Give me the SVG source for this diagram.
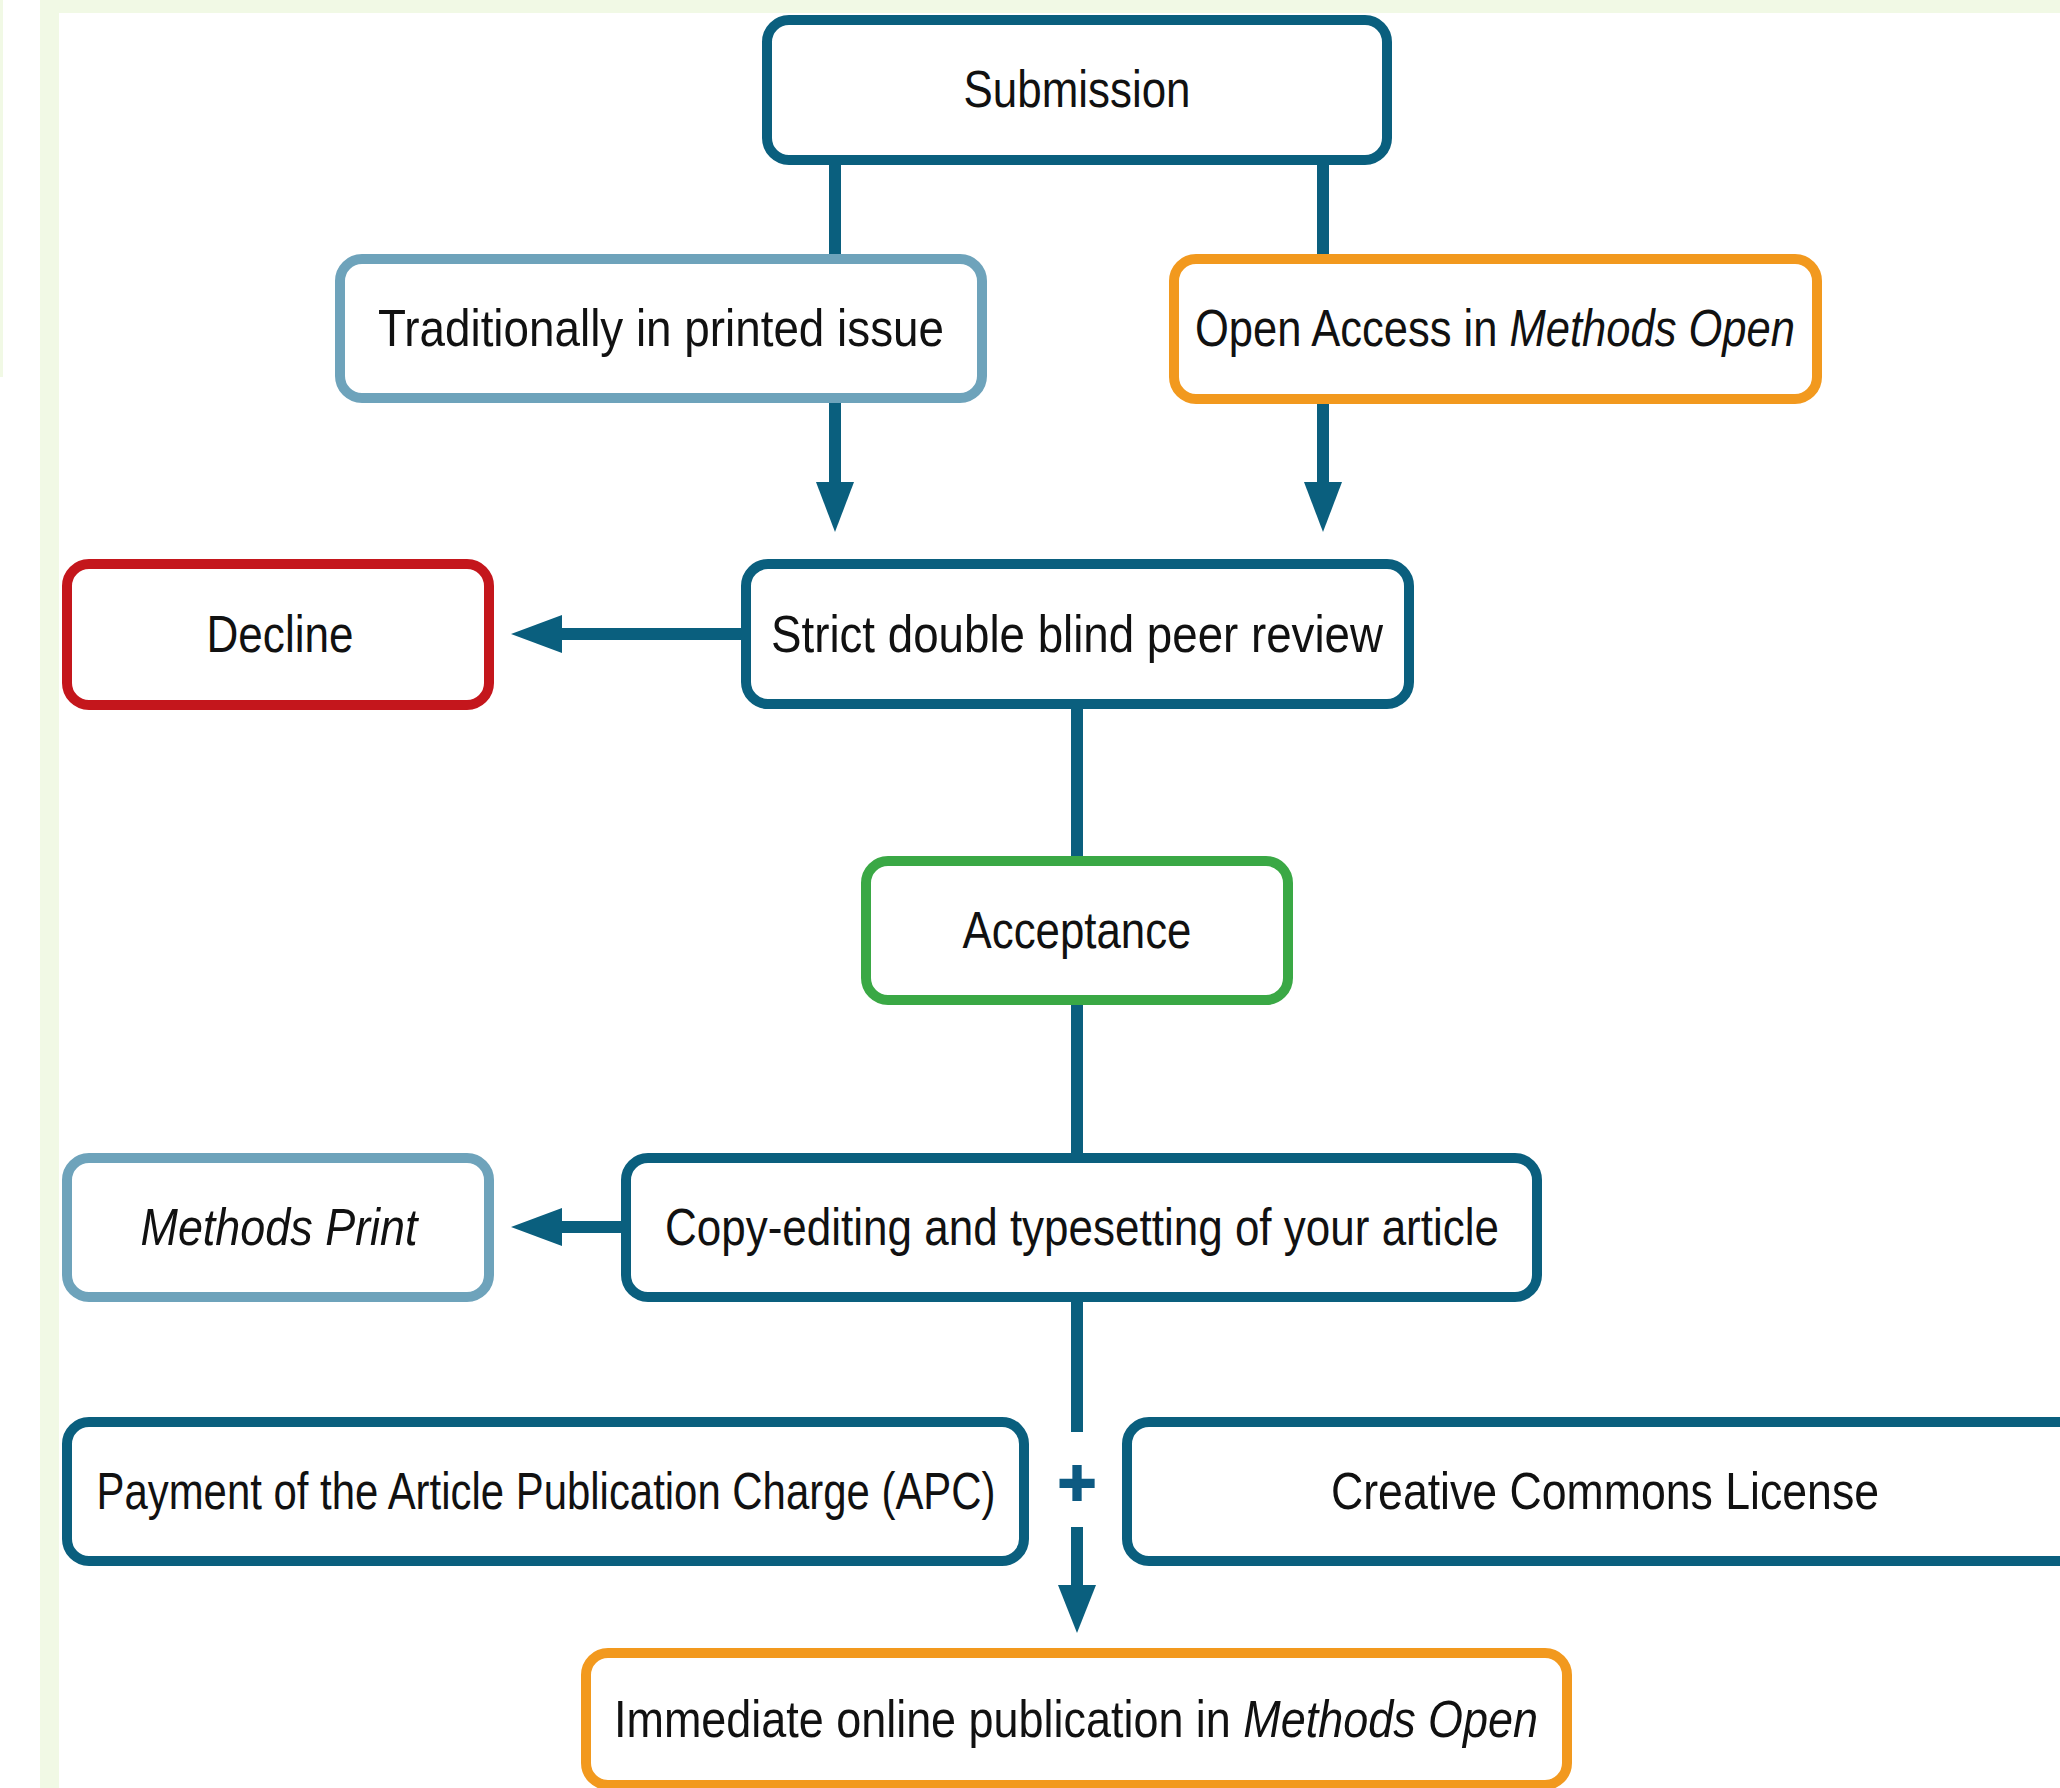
<svg xmlns="http://www.w3.org/2000/svg" width="2060" height="1788" viewBox="0 0 2060 1788">
<defs>
<style>
.box{fill:#ffffff;stroke-width:10}
.teal{stroke:#0a5f7e}
.lblue{stroke:#6ea3bb}
.orange{stroke:#f2991e}
.red{stroke:#c4161c}
.green{stroke:#3aa845}
.lbl{font-family:"Liberation Sans",Arial,sans-serif;font-size:52px;fill:#111111;text-anchor:middle}
.it{font-style:italic}
.conn{stroke:#0a5f7e;stroke-width:12;fill:none}
.head{fill:#0a5f7e}
.plus{font-family:"Liberation Sans",Arial,sans-serif;font-size:66px;font-weight:bold;fill:#0d5a82;stroke:#0d5a82;stroke-width:2;text-anchor:middle}
</style>
</defs>
<rect x="0" y="0" width="2060" height="1788" fill="#ffffff"/>
<rect x="0" y="0" width="3" height="377" fill="#f1f9e5"/>
<rect x="40" y="0" width="19" height="1788" fill="#f1f9e5"/>
<rect x="40" y="0" width="2020" height="13" fill="#f1f9e5"/>

<g id="connectors">
<line class="conn" x1="835" y1="160" x2="835" y2="259"/>
<line class="conn" x1="1323" y1="160" x2="1323" y2="259"/>
<line class="conn" x1="835" y1="398" x2="835" y2="486"/>
<polygon class="head" points="816,482 854,482 835,532"/>
<line class="conn" x1="1323" y1="398" x2="1323" y2="486"/>
<polygon class="head" points="1304,482 1342,482 1323,532"/>
<line class="conn" x1="746" y1="634" x2="558" y2="634"/>
<polygon class="head" points="562,615 562,653 511,634"/>
<line class="conn" x1="1077" y1="704" x2="1077" y2="861"/>
<line class="conn" x1="1077" y1="1000" x2="1077" y2="1158"/>
<line class="conn" x1="626" y1="1227" x2="558" y2="1227"/>
<polygon class="head" points="562,1208 562,1246 511,1227"/>
<line class="conn" x1="1077" y1="1297" x2="1077" y2="1432"/>
<line class="conn" x1="1077" y1="1527" x2="1077" y2="1589"/>
<polygon class="head" points="1058,1585 1096,1585 1077,1633"/>
<text class="plus" x="1077" y="1505">+</text>
</g>

<g id="submission">
<rect class="box teal" x="767" y="20" width="620" height="140" rx="22"/>
<text class="lbl" x="1077" y="107" textLength="227" lengthAdjust="spacingAndGlyphs">Submission</text>
</g>
<g id="traditional">
<rect class="box lblue" x="340" y="259" width="642" height="139" rx="22"/>
<text class="lbl" x="661" y="346" textLength="566" lengthAdjust="spacingAndGlyphs">Traditionally in printed issue</text>
</g>
<g id="open-access">
<rect class="box orange" x="1174" y="259" width="643" height="140" rx="22"/>
<text class="lbl" x="1495" y="346" textLength="600" lengthAdjust="spacingAndGlyphs">Open Access in <tspan class="it">Methods Open</tspan></text>
</g>
<g id="decline">
<rect class="box red" x="67" y="564" width="422" height="141" rx="22"/>
<text class="lbl" x="280" y="652" textLength="147" lengthAdjust="spacingAndGlyphs">Decline</text>
</g>
<g id="peer-review">
<rect class="box teal" x="746" y="564" width="663" height="140" rx="22"/>
<text class="lbl" x="1077" y="652" textLength="612" lengthAdjust="spacingAndGlyphs">Strict double blind peer review</text>
</g>
<g id="acceptance">
<rect class="box green" x="866" y="861" width="422" height="139" rx="22"/>
<text class="lbl" x="1077" y="948" textLength="229" lengthAdjust="spacingAndGlyphs">Acceptance</text>
</g>
<g id="methods-print">
<rect class="box lblue" x="67" y="1158" width="422" height="139" rx="22"/>
<text class="lbl it" x="279" y="1245" textLength="277" lengthAdjust="spacingAndGlyphs">Methods Print</text>
</g>
<g id="copy-editing">
<rect class="box teal" x="626" y="1158" width="911" height="139" rx="22"/>
<text class="lbl" x="1082" y="1245" textLength="834" lengthAdjust="spacingAndGlyphs">Copy-editing and typesetting of your article</text>
</g>
<g id="payment">
<rect class="box teal" x="67" y="1422" width="957" height="139" rx="22"/>
<text class="lbl" x="546" y="1509" textLength="899" lengthAdjust="spacingAndGlyphs">Payment of the Article Publication Charge (APC)</text>
</g>
<g id="creative-commons">
<rect class="box teal" x="1127" y="1422" width="1000" height="139" rx="22"/>
<text class="lbl" x="1605" y="1509" textLength="548" lengthAdjust="spacingAndGlyphs">Creative Commons License</text>
</g>
<g id="immediate">
<rect class="box orange" x="586" y="1653" width="981" height="132" rx="22"/>
<text class="lbl" x="1076" y="1737" textLength="924" lengthAdjust="spacingAndGlyphs">Immediate online publication in <tspan class="it">Methods Open</tspan></text>
</g>
</svg>
